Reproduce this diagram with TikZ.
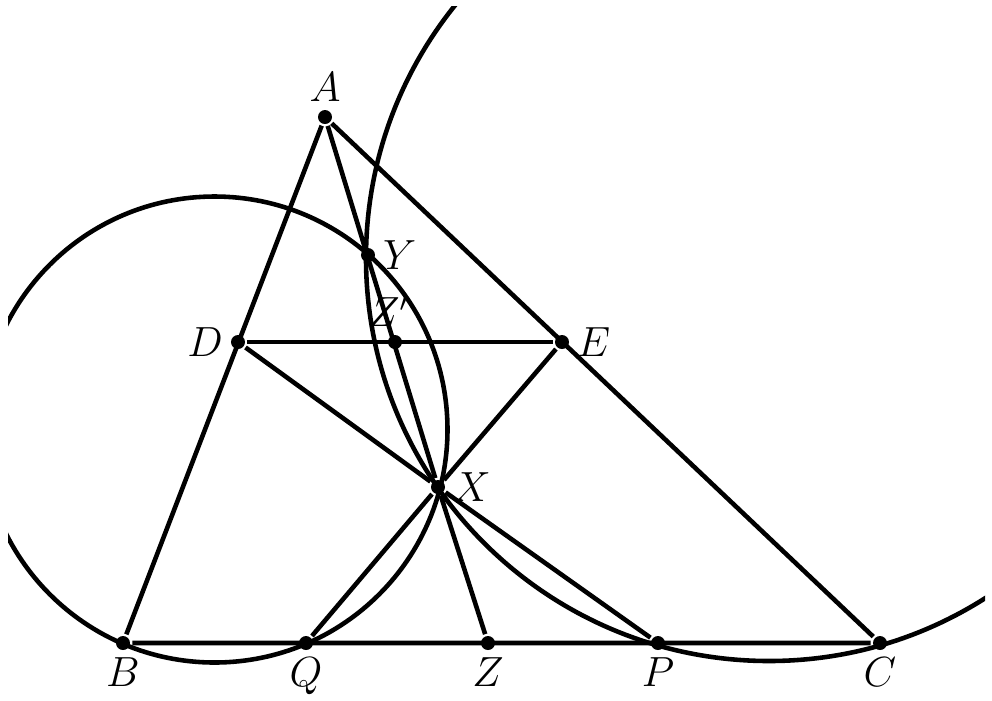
\documentclass[tikz,border=0pt]{standalone}
\usepackage{amsmath}
\usepackage{amsfonts}
\usetikzlibrary{positioning}

\begin{document}
\begin{tikzpicture}[line width=1.3pt,line join=round,
  dot/.style={circle,fill=black,inner sep=0pt,minimum size=1.4mm},
  lbl/.style={font=\fontsize{12}{14}\selectfont,inner sep=1pt,label distance=0pt}]
\useasboundingbox (0,0) rectangle (9.92,-7.00);
% points
\node[dot,label={[lbl]above:$A$}] (A) at (3.25,-1.17) {};
\node[dot,label={[lbl]below:$B$}] (B) at (1.23,-6.43) {};
\node[dot,label={[lbl]below:$C$}] (C) at (8.80,-6.43) {};
\node[dot,label={[lbl]left:$D$}] (D) at (2.38,-3.42) {};
\node[dot,label={[lbl]right:$E$}] (E) at (5.62,-3.42) {};
\node[dot,label={[lbl]right:$X$}] (X) at (4.38,-4.87) {};
\node[dot,label={[lbl]right:$Y$}] (Y) at (3.68,-2.55) {};
\node[dot,label={[lbl,xshift=-0.6mm]above:$Z'$}] (Zp) at (3.95,-3.42) {};
\node[dot,label={[lbl]below:$Q$}] (Q) at (3.06,-6.43) {};
\node[dot,label={[lbl]below:$Z$}] (Z) at (4.88,-6.43) {};
\node[dot,label={[lbl]below:$P$}] (P) at (6.58,-6.43) {};
% centres of the two circles
\coordinate (O1) at (2.145,-4.295);
\coordinate (O2) at (7.69,-2.58);
% triangle and segments
\draw (A) -- (B) -- (C) -- (A);
\draw (D) -- (E);
\draw (A) -- (X);
\draw (D) -- (X) -- (E);
\draw (Q) -- (X) -- (P);
\draw (X) -- (Z);
% circles
\begin{scope}
\clip (0.08,-6.95) rectangle (9.85,-0.06);
\draw (O1) circle (2.33);
\draw (O2) circle (4.03);
\end{scope}
\end{tikzpicture}
\end{document}
